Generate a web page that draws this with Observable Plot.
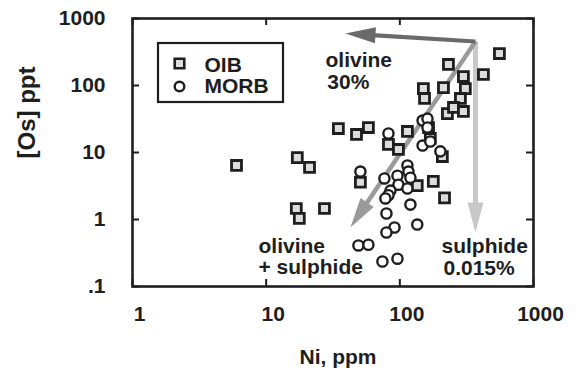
<!DOCTYPE html>
<html><head><meta charset="utf-8">
<script src="https://cdn.jsdelivr.net/npm/d3@7"></script>
<script src="https://cdn.jsdelivr.net/npm/@observablehq/plot@0.6"></script>
<style>
body{margin:0;background:#fff;}
#chart svg{display:block;}
</style></head><body><div id="chart"></div>
<script>
// ---- data ----
const seriesNames = ["OIB", "MORB"];
const oibNi = [6.0, 17.1, 21.1, 16.8, 17.7, 27.3, 34.7, 47.4, 58.2, 114, 82.2, 97.6, 169, 208, 50.7, 135, 178, 216, 556, 231, 422, 299, 150, 212, 309, 153, 284, 227, 252, 299, 164];
const oibOs = [6.4, 8.4, 6.0, 1.46, 1.04, 1.46, 22.8, 18.6, 23.6, 20.6, 13.2, 11.1, 16.2, 8.7, 3.6, 3.2, 3.7, 2.1, 300, 206, 146, 136, 90, 93, 90, 64, 64, 38, 47, 41, 23.6];
const morbNi = [82.2, 148, 161, 161, 148, 169, 201, 114, 116, 50.7, 96, 120, 76.7, 97.6, 85.1, 114, 82.2, 78, 120, 79.4, 135, 91.2, 79.4, 49, 58.2, 74.1, 96];
const morbOs = [19.2, 30, 32, 23.6, 12.7, 14.6, 10.4, 6.4, 5.2, 5.2, 4.5, 4.2, 4.1, 3.3, 2.7, 2.9, 2.3, 2.06, 1.67, 1.23, 0.84, 0.76, 0.64, 0.41, 0.42, 0.236, 0.26];

const xTicks = [1, 10, 100, 1000];
const xTickLabels = ["1", "10", "100", "1000"];
const yTicks = [0.1, 1, 10, 100, 1000];
const yTickLabels = [".1", "1", "10", "100", "1000"];
const xLabel = "Ni, ppm";
const yLabel = "[Os] ppt";

const arrowNames = ["olivine", "olivine + sulphide", "sulphide"];
const arrowFromNi = [368, 368, 368];
const arrowFromOs = [454, 454, 454];
const arrowToNi = [39.2, 42.7, 368];
const arrowToOs = [597, 0.76, 0.64];

const noteText = ["olivine", "30%", "olivine", "+ sulphide", "sulphide", "0.015%"];
const noteNi = [27.8, 28.7, 8.76, 8.76, 205, 212];
const noteOs = [186, 90, 0.321, 0.156, 0.321, 0.146];

// ---- layout & style ----
const W = 580, H = 368, mL = 132, mR = 47, mT = 18, mB = 82;
const plotW = W - mL - mR, plotH = H - mT - mB;
const xDomain = [1, 1000], yDomain = [0.1, 1000];
const ink = "#1e1e1e";
const font = "'Liberation Sans', Arial, Helvetica, sans-serif";
const arrowStyle = [
  {color: "#6a6a6a", width: 4.2},
  {color: "#9a9a9a", width: 4.5},
  {color: "#c8c8c8", width: 5}
];
const HEAD_L = 30, HEAD_W = 16, TICK = 7;

// scales mirroring Plot's, used only for arrow-head geometry
const sx = d3.scaleLog(xDomain, [mL, W - mR]);
const sy = d3.scaleLog(yDomain, [H - mB, mT]);

const oib = oibNi.map((v, i) => ({Ni: v, Os: oibOs[i]}));
const morb = morbNi.map((v, i) => ({Ni: v, Os: morbOs[i]}));
const notes = noteText.map((t, i) => ({t, Ni: noteNi[i], Os: noteOs[i]}));

const arrows = arrowNames.map((name, i) => {
  const x0 = sx(arrowFromNi[i]), y0 = sy(arrowFromOs[i]);
  const x1 = sx(arrowToNi[i]), y1 = sy(arrowToOs[i]);
  const len = Math.hypot(x1 - x0, y1 - y0);
  const ux = (x1 - x0) / len, uy = (y1 - y0) / len;
  const back = HEAD_L - 3;
  return {
    name,
    x1: arrowFromNi[i], y1: arrowFromOs[i],
    x2: sx.invert(x1 - ux * back), y2: sy.invert(y1 - uy * back),
    tipX: arrowToNi[i], tipY: arrowToOs[i],
    angle: Math.atan2(ux, -uy) * 180 / Math.PI
  };
});

const headSymbol = {
  draw(ctx) {
    ctx.moveTo(0, 0);
    ctx.lineTo(HEAD_W / 2, HEAD_L);
    ctx.lineTo(-HEAD_W / 2, HEAD_L);
    ctx.closePath();
  }
};

const arrowMarks = [2, 1, 0].flatMap(i => [
  Plot.link([arrows[i]], {x1: "x1", y1: "y1", x2: "x2", y2: "y2",
    stroke: arrowStyle[i].color, strokeWidth: arrowStyle[i].width, strokeLinecap: "butt"}),
  Plot.dot([arrows[i]], {x: "tipX", y: "tipY", symbol: headSymbol, rotate: arrows[i].angle,
    fill: arrowStyle[i].color, stroke: "none"})
]);

function legendBox(index, scales, values, dims) {
  return d3.create("svg:rect")
    .attr("x", dims.marginLeft + 26).attr("y", dims.marginTop + 25)
    .attr("width", 125).attr("height", 59)
    .attr("fill", "white").attr("stroke", ink).attr("stroke-width", 2.2)
    .node();
}

const textStyle = {fontFamily: font, fontWeight: "bold", fontSize: 21, fill: ink};

const chart = Plot.plot({
  width: W, height: H,
  marginLeft: mL, marginRight: mR, marginTop: mT, marginBottom: mB,
  x: {type: "log", domain: xDomain},
  y: {type: "log", domain: yDomain},
  style: {fontFamily: font, background: "white", color: ink},
  marks: [
    ...arrowMarks,
    Plot.dot(oib, {x: "Ni", y: "Os", symbol: "square", r: 5.6, fill: "#dcdcdc", stroke: ink, strokeWidth: 2.8}),
    Plot.dot(morb, {x: "Ni", y: "Os", symbol: "circle", r: 5.1, fill: "white", stroke: ink, strokeWidth: 2.4}),
    Plot.text(notes, {x: "Ni", y: "Os", text: "t", textAnchor: "start", lineAnchor: "bottom", ...textStyle}),
    // legend
    legendBox,
    Plot.dot([seriesNames[0]], {x: null, y: null, frameAnchor: "top-left", dx: 47, dy: 45, symbol: "square", r: 5.4, fill: "#dcdcdc", stroke: ink, strokeWidth: 2.6}),
    Plot.dot([seriesNames[1]], {x: null, y: null, frameAnchor: "top-left", dx: 47, dy: 68, symbol: "circle", r: 4.8, fill: "white", stroke: ink, strokeWidth: 2.4}),
    Plot.text([seriesNames[0]], {x: null, y: null, text: d => d, frameAnchor: "top-left", dx: 72, dy: 47, textAnchor: "start", lineAnchor: "middle", ...textStyle}),
    Plot.text([seriesNames[1]], {x: null, y: null, text: d => d, frameAnchor: "top-left", dx: 72, dy: 68, textAnchor: "start", lineAnchor: "middle", ...textStyle}),
    // inward ticks on all sides
    Plot.tickX(xTicks, {x: d => d, insetTop: plotH - TICK, stroke: ink, strokeWidth: 2}),
    Plot.tickX(xTicks, {x: d => d, insetBottom: plotH - TICK, stroke: ink, strokeWidth: 2}),
    Plot.tickY(yTicks, {y: d => d, insetRight: plotW - TICK, stroke: ink, strokeWidth: 2}),
    Plot.tickY(yTicks, {y: d => d, insetLeft: plotW - TICK, stroke: ink, strokeWidth: 2}),
    Plot.frame({stroke: ink, strokeWidth: 2.6}),
    // tick labels
    Plot.axisX({anchor: "bottom", ticks: xTicks, tickFormat: d => xTickLabels[xTicks.indexOf(d)],
      tickSize: 0, tickPadding: 20, dx: 7, label: null, fontSize: 21, fontWeight: "bold", fill: ink}),
    Plot.axisY({anchor: "left", ticks: yTicks, tickFormat: d => yTickLabels[yTicks.indexOf(d)],
      tickSize: 0, tickPadding: 27, label: null, fontSize: 21, fontWeight: "bold", fill: ink}),
    // axis titles
    Plot.text([xLabel], {x: null, y: null, text: d => d, frameAnchor: "bottom", dx: 5, dy: 77, lineAnchor: "bottom", ...textStyle}),
    Plot.text([yLabel], {x: null, y: null, text: d => d, frameAnchor: "left", dx: -98, dy: 6, rotate: -90, lineAnchor: "bottom", ...textStyle, fontSize: 24})
  ]
});
document.getElementById("chart").append(chart);
</script>
</body></html>
